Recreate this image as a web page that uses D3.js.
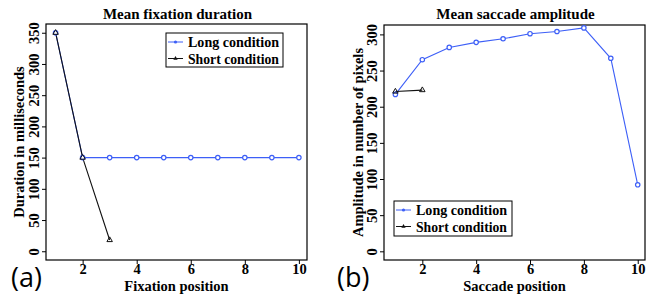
<!DOCTYPE html>
<html><head><meta charset="utf-8">
<script src="https://cdn.jsdelivr.net/npm/d3@7"></script>
<style>
body{margin:0;background:#fff}
svg{display:block}
text{font-family:"Liberation Serif","Times New Roman",serif;font-weight:bold;fill:#000}
text.panel{font-family:"Open Sans","Lato",sans-serif;font-weight:normal}
</style></head>
<body>
<script>
// ---- data ----
const fixPositionsLong = [1,2,3,4,5,6,7,8,9,10];
const fixLong = [350,150,150,150,150,150,150,150,150,150];
const fixPositionsShort = [1,2,3];
const fixShort = [350,150,18];

const sacPositionsLong = [1,2,3,4,5,6,7,8,9,10];
const sacLong = [217,265,282,289,294,301,304,309,267,92];
const sacPositionsShort = [1,2];
const sacShort = [221,223];

const xTicks = [2,4,6,8,10];
const fixYTicks = [0,50,100,150,200,250,300,350];
const sacYTicks = [0,50,100,150,200,250,300];
const legendLabels = ["Long condition","Short condition"];

const blue = "#3d5ff7";
const W = 656, H = 294;
const svg = d3.select("body").append("svg").attr("width",W).attr("height",H);

function panel(o){
  const g = svg.append("g");
  const x = d3.scaleLinear().domain(o.xDomain).range([o.left,o.right]);
  const y = d3.scaleLinear().domain(o.yDomain).range([o.bottom,o.top]);
  g.append("rect").attr("x",o.left).attr("y",o.top).attr("width",o.right-o.left).attr("height",o.bottom-o.top)
    .attr("fill","none").attr("stroke","#000").attr("stroke-width",1.2);
  const xa = g.append("g").attr("transform",`translate(0,${o.bottom})`)
    .call(d3.axisBottom(x).tickValues(xTicks).tickSize(4).tickSizeOuter(0).tickPadding(0));
  xa.select(".domain").remove();
  xa.selectAll("line").attr("stroke","#000");
  xa.selectAll("text").attr("font-size",14.5).attr("font-family","Liberation Serif").attr("font-weight","bold");
  const ya = g.append("g").attr("transform",`translate(${o.left},0)`)
    .call(d3.axisLeft(y).tickValues(o.yTicks).tickSize(4).tickSizeOuter(0));
  ya.select(".domain").remove();
  ya.selectAll("line").attr("stroke","#000");
  ya.selectAll("text").attr("font-size",14.5).attr("font-family","Liberation Serif").attr("font-weight","bold")
    .attr("text-anchor","middle")
    .attr("transform","translate(-12,0) rotate(-90)")
    .attr("dy","0.35em").attr("x",0).attr("y",0);
  g.append("text").attr("x",(o.left+o.right)/2+1).attr("y",19).attr("text-anchor","middle")
    .attr("font-size",15).text(o.title);
  g.append("text").attr("x",(o.left+o.right)/2).attr("y",291).attr("text-anchor","middle")
    .attr("font-size",14.5).text(o.xLabel);
  g.append("text").attr("transform",`translate(${o.yLabelX},${(o.top+o.bottom)/2}) rotate(-90)`)
    .attr("text-anchor","middle").attr("font-size",14.5).text(o.yLabel);
  g.append("text").attr("class","panel").attr("x",o.panelX).attr("y",287).attr("font-size",27).text(o.panelLabel);

  const line = d3.line().x(d=>x(d[0])).y(d=>y(d[1]));
  const longPts = o.longX.map((v,i)=>[v,o.longY[i]]);
  const shortPts = o.shortX.map((v,i)=>[v,o.shortY[i]]);
  g.append("path").attr("d",line(longPts)).attr("fill","none").attr("stroke",blue).attr("stroke-width",1.1);
  g.append("path").attr("d",line(shortPts)).attr("fill","none").attr("stroke","#111").attr("stroke-width",1.1);
  g.selectAll(".lc").data(longPts).enter().append("circle").attr("cx",d=>x(d[0])).attr("cy",d=>y(d[1]))
    .attr("r",2.2).attr("fill","#fff").attr("stroke",blue).attr("stroke-width",1.2);
  const tri = d3.symbol().type(d3.symbolTriangle).size(13);
  g.selectAll(".sc").data(shortPts).enter().append("path").attr("d",tri)
    .attr("transform",d=>`translate(${x(d[0])},${y(d[1])})`)
    .attr("fill","none").attr("stroke","#111").attr("stroke-width",1);

  const L = o.legend;
  g.append("rect").attr("x",L.x).attr("y",L.y).attr("width",L.w).attr("height",L.h)
    .attr("fill","#fff").attr("stroke","#000").attr("stroke-width",1);
  const colors=[blue,"#111"];
  legendLabels.forEach((lab,i)=>{
    const cy = L.y + 9 + i*16.5;
    g.append("line").attr("x1",L.x+2).attr("x2",L.x+17).attr("y1",cy).attr("y2",cy).attr("stroke",colors[i]).attr("stroke-width",1);
    if(i===0) g.append("circle").attr("cx",L.x+9.5).attr("cy",cy).attr("r",1.6).attr("fill",blue);
    else g.append("path").attr("d",d3.symbol().type(d3.symbolTriangle).size(8)).attr("transform",`translate(${L.x+9.5},${cy})`).attr("fill","#111");
    g.append("text").attr("x",L.x+22).attr("y",cy+5).attr("font-size",15.5)
      .attr("textLength",91).attr("lengthAdjust","spacingAndGlyphs").text(lab);
  });
}

panel({left:46,right:307,top:24,bottom:260,xDomain:[0.645,10.3],yDomain:[-14,364],yTicks:fixYTicks,
  title:"Mean fixation duration",xLabel:"Fixation position",yLabel:"Duration in milliseconds",yLabelX:24,
  panelLabel:"(a)",panelX:11,
  longX:fixPositionsLong,longY:fixLong,shortX:fixPositionsShort,shortY:fixShort,
  legend:{x:166,y:33,w:117,h:34}});

panel({left:384,right:645,top:25,bottom:260,xDomain:[0.577,10.27],yDomain:[-12,313],yTicks:sacYTicks,
  title:"Mean saccade amplitude",xLabel:"Saccade position",yLabel:"Amplitude in number of pixels",yLabelX:363,
  panelLabel:"(b)",panelX:337,
  longX:sacPositionsLong,longY:sacLong,shortX:sacPositionsShort,shortY:sacShort,
  legend:{x:394,y:201,w:118,h:35}});
</script>
</body></html>
